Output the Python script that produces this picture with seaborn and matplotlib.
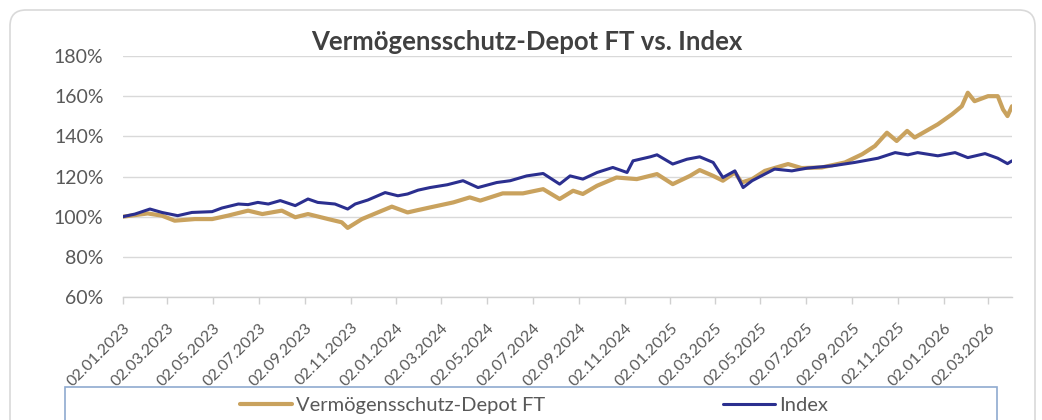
import pandas as pd
import matplotlib
matplotlib.use("Agg")
import matplotlib.pyplot as plt
import matplotlib.dates as mdates
from matplotlib.patches import FancyBboxPatch, Rectangle
from matplotlib.lines import Line2D
from matplotlib.ticker import FuncFormatter
import seaborn as sns

title = "Vermögensschutz-Depot FT vs. Index"
series_names = ["Vermögensschutz-Depot FT", "Index"]

depot_dates = [
    "2023-01-02", "2023-02-04", "2023-02-23", "2023-03-12", "2023-04-08", "2023-05-01",
    "2023-05-22", "2023-06-18", "2023-07-07", "2023-08-02", "2023-08-20", "2023-09-06",
    "2023-10-03", "2023-10-21", "2023-10-29", "2023-11-17", "2023-12-14", "2023-12-27",
    "2024-01-17", "2024-01-31", "2024-02-16", "2024-03-18", "2024-04-09", "2024-04-23",
    "2024-05-23", "2024-06-19", "2024-07-16", "2024-08-07", "2024-08-25", "2024-09-07",
    "2024-09-26", "2024-10-22", "2024-11-18", "2024-12-15", "2025-01-05", "2025-01-28",
    "2025-02-10", "2025-02-28", "2025-03-13", "2025-03-29", "2025-04-07", "2025-04-21",
    "2025-05-08", "2025-06-08", "2025-06-26", "2025-07-23", "2025-08-23", "2025-09-15",
    "2025-10-02", "2025-10-18", "2025-10-31", "2025-11-14", "2025-11-24", "2025-12-25",
    "2026-01-13", "2026-01-26", "2026-02-03", "2026-02-12", "2026-03-02", "2026-03-15",
    "2026-03-22", "2026-03-28", "2026-04-03",
]
depot_values = [
    100.0, 101.6, 100.5, 98.0, 98.8, 98.8,
    100.5, 103.0, 101.3, 103.0, 99.7, 101.3,
    98.8, 97.2, 94.4, 98.8, 103.0, 105.0,
    102.1, 103.3, 104.6, 107.1, 109.6, 108.0,
    111.6, 111.6, 113.7, 108.8, 112.9, 111.3,
    115.4, 119.5, 118.7, 121.2, 116.2, 120.3,
    123.2, 120.3, 117.9, 122.0, 117.0, 118.7,
    122.8, 126.2, 124.2, 124.5, 127.0, 131.1,
    135.2, 141.8, 137.7, 142.7, 139.4, 146.0,
    151.0, 155.0, 161.7, 157.5, 160.0, 160.0,
    153.4, 150.1, 155.0,
]

index_dates = [
    "2023-01-02", "2023-01-18", "2023-02-07", "2023-02-23", "2023-03-16", "2023-04-04",
    "2023-05-01", "2023-05-14", "2023-06-05", "2023-06-18", "2023-07-01", "2023-07-15",
    "2023-07-31", "2023-08-20", "2023-09-06", "2023-09-19", "2023-10-12", "2023-10-29",
    "2023-11-08", "2023-11-25", "2023-12-18", "2024-01-04", "2024-01-17", "2024-01-31",
    "2024-02-16", "2024-03-10", "2024-03-31", "2024-04-20", "2024-05-15", "2024-06-02",
    "2024-06-24", "2024-07-16", "2024-08-07", "2024-08-21", "2024-09-07", "2024-09-26",
    "2024-10-17", "2024-11-05", "2024-11-13", "2024-12-06", "2024-12-15", "2025-01-05",
    "2025-01-24", "2025-02-10", "2025-02-28", "2025-03-13", "2025-03-29", "2025-04-09",
    "2025-04-21", "2025-05-08", "2025-05-21", "2025-06-13", "2025-07-04", "2025-08-06",
    "2025-09-05", "2025-10-06", "2025-10-29", "2025-11-15", "2025-11-28", "2025-12-25",
    "2026-01-17", "2026-02-03", "2026-02-26", "2026-03-15", "2026-03-28", "2026-04-03",
]
index_values = [
    100.0, 101.3, 103.8, 102.1, 100.5, 102.1,
    102.5, 104.3, 106.3, 106.0, 107.1, 106.3,
    108.0, 105.5, 108.8, 107.1, 106.3, 103.8,
    106.3, 108.3, 112.0, 110.4, 111.3, 113.2,
    114.5, 115.9, 117.9, 114.5, 117.0, 117.9,
    120.3, 121.5, 116.2, 120.3, 118.7, 122.0,
    124.5, 122.0, 127.8, 129.8, 130.8, 126.2,
    128.6, 129.8, 127.0, 119.5, 122.8, 114.5,
    117.9, 121.2, 123.7, 122.8, 124.2, 125.3,
    127.0, 129.1, 131.9, 130.8, 131.9, 130.3,
    131.9, 129.4, 131.4, 129.1, 126.4, 127.8,
]

y_ticks = [60, 80, 100, 120, 140, 160, 180]

GOLD = "#C9A25E"
NAVY = "#2B2F8F"
TXT = "#595959"

sns.set_theme(style="white")
plt.rcParams["font.family"] = ["Lato", "DejaVu Sans"]

W, H = 1042, 420
fig = plt.figure(figsize=(W / 100, H / 100), dpi=100)
fig.patch.set_facecolor("white")

# outer rounded chart frame
frame = FancyBboxPatch((10 / 100, -0.3), (1035 - 10) / 100, (H - 10) / 100 + 0.3,
                       boxstyle="round,pad=0,rounding_size=0.16",
                       transform=fig.dpi_scale_trans, facecolor="white",
                       edgecolor="#D9D9D9", linewidth=1.2, zorder=-5)
fig.patches.append(frame)

ax = fig.add_axes([123 / W, 1 - 297 / H, (1012 - 123) / W, (297 - 56) / H])
ax.set_facecolor("none")
ax.set_zorder(2)

depot_df = pd.DataFrame({"date": pd.to_datetime(depot_dates), "value": depot_values})
index_df = pd.DataFrame({"date": pd.to_datetime(index_dates), "value": index_values})

sns.lineplot(data=depot_df, x="date", y="value", ax=ax, color=GOLD, linewidth=3.0,
             estimator=None, zorder=3)
sns.lineplot(data=index_df, x="date", y="value", ax=ax, color=NAVY, linewidth=2.2,
             estimator=None, zorder=4)

ax.set_ylim(60, 180)
ax.set_yticks(y_ticks)
ax.yaxis.set_major_formatter(FuncFormatter(lambda v, p: f"{v:.0f}%"))
ax.set_xlim(pd.Timestamp("2023-01-02"), pd.Timestamp("2026-04-03"))
ax.xaxis.set_major_locator(mdates.MonthLocator(bymonth=[1, 3, 5, 7, 9, 11], bymonthday=2))
ax.xaxis.set_major_formatter(mdates.DateFormatter("%d.%m.%Y"))
ax.set_xlabel("")
ax.set_ylabel("")

ax.yaxis.grid(True, color="#D9D9D9", linewidth=1.0)
ax.xaxis.grid(False)
for s in ["top", "right", "left"]:
    ax.spines[s].set_visible(False)
ax.spines["bottom"].set_color("#D0D0D0")
ax.spines["bottom"].set_linewidth(1.0)

ax.tick_params(axis="y", length=0, pad=14, labelsize=14, labelcolor=TXT)
ax.tick_params(axis="x", length=5, width=1, color="#D0D0D0", direction="out",
               bottom=True, pad=12, labelsize=11.5, labelcolor=TXT)
for lab in ax.get_xticklabels():
    lab.set_rotation(45)
    lab.set_ha("right")
    lab.set_va("top")
    lab.set_rotation_mode("anchor")

fig.text(527 / W, 1 - 42 / H, title, ha="center", va="center", fontsize=18.5,
         fontweight="bold", color="#404040")

# legend box
rect = Rectangle((65 / W, -0.05), (997 - 65) / W, (H - 387) / H + 0.05,
                 transform=fig.transFigure, facecolor="white", edgecolor="#8FAAD0",
                 linewidth=1.2, zorder=1)
fig.patches.append(rect)

handles = [Line2D([], [], color=GOLD, linewidth=3.0),
           Line2D([], [], color=NAVY, linewidth=2.2)]
leg = fig.legend(handles, series_names, loc="center", bbox_to_anchor=(534 / W, 1 - 405 / H),
                 ncol=2, frameon=False, fontsize=14.5, handlelength=2.6, handletextpad=0.2,
                 columnspacing=8.8, labelcolor=TXT)

fig.savefig("out.png", dpi=100)
